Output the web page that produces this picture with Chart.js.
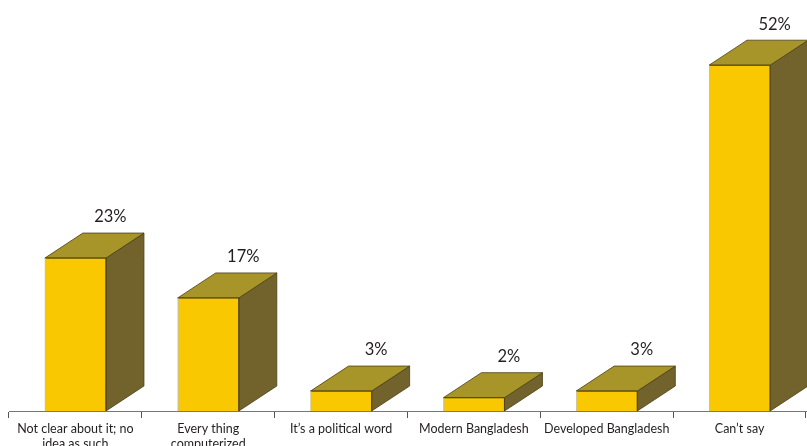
<!DOCTYPE html>
<html>
<head>
<meta charset="utf-8">
<script src="https://cdn.jsdelivr.net/npm/chart.js@4"></script>
<style>
  html, body { margin: 0; padding: 0; background: #fff; }
  #wrap { width: 807px; height: 446px; position: relative; }
</style>
</head>
<body>
<div id="wrap"><canvas id="answers-canvas"></canvas></div>
<script>
// categories and shares (%)
var categories = [
  ["Not clear about it; no", "idea as such"],
  ["Every thing", "computerized"],
  "It\u2019s a political word",
  "Modern Bangladesh",
  "Developed Bangladesh",
  "Can\u2019t say"
];
var shares = [23, 17, 3, 2, 3, 52];

// 3D faces drawn on top of the plain bars
var box3d = {
  id: "box3d",
  afterDatasetsDraw: function (chart) {
    var ctx = chart.ctx;
    var meta = chart.getDatasetMeta(0);
    var dx = 38, dy = 25;
    ctx.save();
    meta.data.forEach(function (bar, i) {
      var p = bar.getProps(["x", "y", "base", "width"], true);
      var l = p.x - p.width / 2, r = p.x + p.width / 2;
      var t = p.y, b = p.base;

      // side face
      ctx.beginPath();
      ctx.moveTo(r, t);
      ctx.lineTo(r + dx, t - dy);
      ctx.lineTo(r + dx, b - dy);
      ctx.lineTo(r, b);
      ctx.closePath();
      ctx.fillStyle = "#72622c";
      ctx.fill();
      ctx.strokeStyle = "#4a3f14";
      ctx.lineWidth = 0.8;
      ctx.stroke();

      // top face
      ctx.beginPath();
      ctx.moveTo(l, t);
      ctx.lineTo(l + dx, t - dy);
      ctx.lineTo(r + dx, t - dy);
      ctx.lineTo(r, t);
      ctx.closePath();
      ctx.fillStyle = "#a8952a";
      ctx.fill();
      ctx.stroke();

      // front edges
      ctx.beginPath();
      ctx.moveTo(r, b);
      ctx.lineTo(r, t);
      ctx.lineTo(l, t);
      ctx.stroke();
      ctx.beginPath();
      ctx.strokeStyle = "#b8c0cc";
      ctx.moveTo(l + 0.5, t);
      ctx.lineTo(l + 0.5, b);
      ctx.stroke();

      // value label
      ctx.fillStyle = "#231f20";
      ctx.font = "16.5px Lato, 'Open Sans', sans-serif";
      ctx.textAlign = "center";
      ctx.textBaseline = "middle";
      ctx.fillText(shares[i] + "%", p.x + dx - 3, t - dy - 16);
    });
    ctx.restore();
  }
};

var answersCanvas = document.getElementById("answers-canvas");

var answersChart = new Chart(answersCanvas, {
  type: "bar",
  data: {
    labels: categories,
    datasets: [
      {
        data: shares,
        backgroundColor: "#fac800",
        borderWidth: 0,
        barPercentage: 0.46,
        categoryPercentage: 1,
      },
    ],
  },
  options: {
    animation: false,
    responsive: true,
    maintainAspectRatio: false,
    layout: { padding: { top: 12, left: 9, right: 1, bottom: 0 } },
    plugins: {
      legend: { display: false },
      tooltip: { enabled: false },
    },
    scales: {
      y: { display: false, min: 0, max: 60 },
      x: {
        afterFit: function (axis) { axis.height = 35; },
        grid: {
          drawOnChartArea: false,
          drawTicks: true,
          tickLength: 7,
          color: "#555",
          offset: true,
        },
        border: { display: true, color: "#777", width: 1 },
        ticks: {
          color: "#231f20",
          padding: 3,
          maxRotation: 0,
          autoSkip: false,
          font: { family: "Lato, 'Open Sans', sans-serif", size: 12.5, lineHeight: 1.2 },
        },
      },
    },
  },
  plugins: [box3d],
});
</script>
</body>
</html>
